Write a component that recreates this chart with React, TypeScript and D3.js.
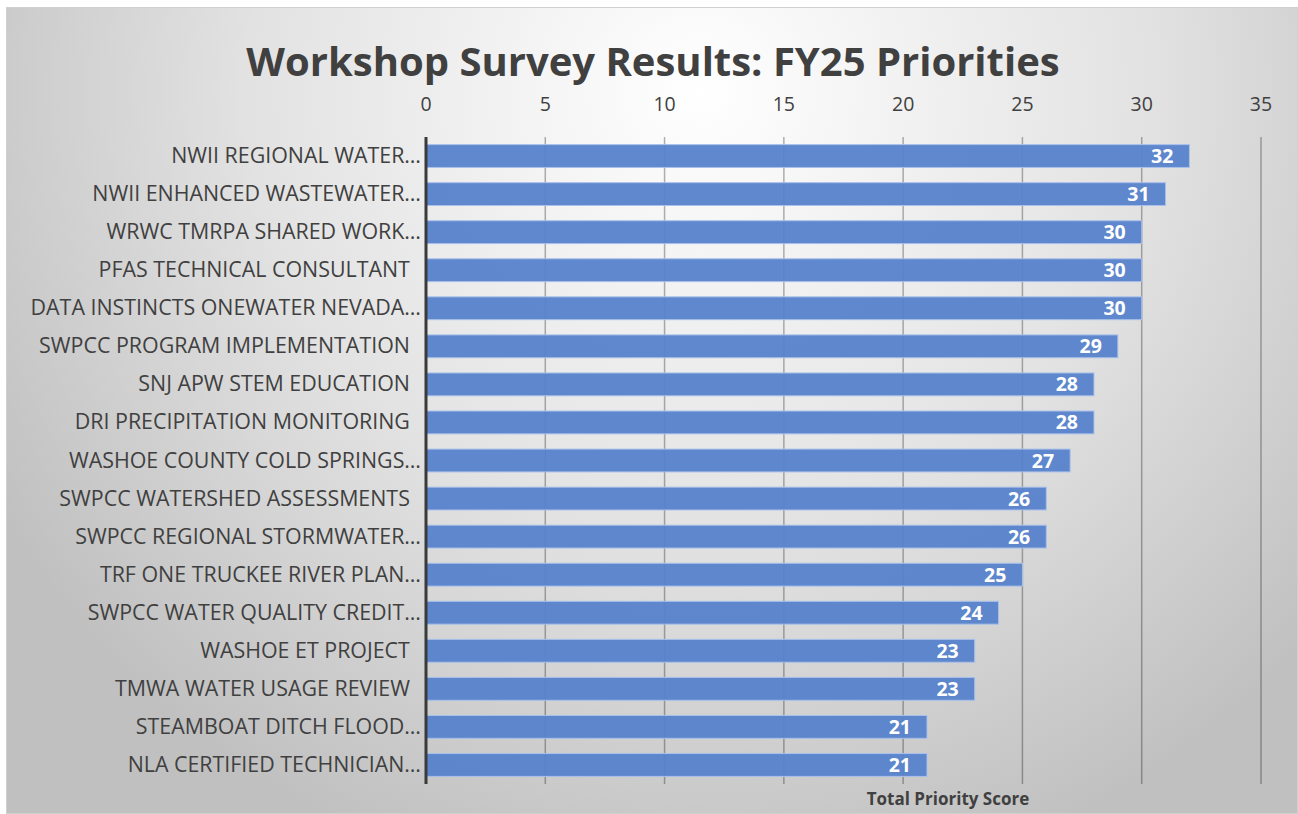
import React from "react";
import * as d3 from "d3";

const categories = [
  "NWII REGIONAL WATER…",
  "NWII ENHANCED WASTEWATER…",
  "WRWC TMRPA SHARED WORK…",
  "PFAS TECHNICAL CONSULTANT  ",
  "DATA INSTINCTS ONEWATER NEVADA…",
  "SWPCC PROGRAM IMPLEMENTATION  ",
  "SNJ APW STEM EDUCATION  ",
  "DRI PRECIPITATION MONITORING  ",
  "WASHOE COUNTY COLD SPRINGS…",
  "SWPCC WATERSHED ASSESSMENTS  ",
  "SWPCC REGIONAL STORMWATER…",
  "TRF ONE TRUCKEE RIVER PLAN…",
  "SWPCC WATER QUALITY CREDIT…",
  "WASHOE ET PROJECT  ",
  "TMWA WATER USAGE REVIEW  ",
  "STEAMBOAT DITCH FLOOD…",
  "NLA CERTIFIED TECHNICIAN…",
];
const scores = [32, 31, 30, 30, 30, 29, 28, 28, 27, 26, 26, 25, 24, 23, 23, 21, 21];
const xTicks = [0, 5, 10, 15, 20, 25, 30, 35];
const title = "Workshop Survey Results: FY25 Priorities";
const axisTitle = "Total Priority Score";

const W = 1298;
const H = 814;
const FONT = "'Open Sans', 'Noto Sans', sans-serif";

export default function App() {
  const left = 426;
  const right = 1261;
  const top = 137;
  const bottom = 784;
  const x = d3.scaleLinear().domain([0, 35]).range([left, right]);
  const y = d3.scaleBand<string>().domain(categories).range([top, bottom]).paddingInner(0.4).paddingOuter(0.2);

  return (
    <svg width={W} height={H} style={{ position: "absolute", left: 0, top: 0, background: "#fff" }}>
      <defs>
        <radialGradient id="bg" gradientUnits="userSpaceOnUse" cx={700} cy={90} r={820}>
          <stop offset="0" stopColor="#ffffff" />
          <stop offset="0.55" stopColor="#e2e2e2" />
          <stop offset="1" stopColor="#c0c0c0" />
        </radialGradient>
      </defs>
      <rect x={6.5} y={7.5} width={W - 7} height={H - 8} fill="url(#bg)" stroke="#d0d0d0" strokeWidth={1} />
      <text x={653} y={76} textAnchor="middle" fontFamily={FONT} fontWeight={700} fontSize={40} fill="#404040">
        {title}
      </text>
      {xTicks.map((t) => (
        <g key={t}>
          <text x={x(t)} y={111} textAnchor="middle" fontFamily={FONT} fontSize={19.5} fill="#404040">
            {t}
          </text>
          {t > 0 && (
            <line x1={x(t)} x2={x(t)} y1={top} y2={bottom} stroke="rgba(0,0,0,0.3)" strokeWidth={1.5} />
          )}
        </g>
      ))}
      {categories.map((c, i) => (
        <g key={c}>
          <rect
            x={x(0)}
            y={y(c)!}
            width={x(scores[i]) - x(0)}
            height={y.bandwidth()}
            fill="#5682cb"
            fillOpacity={0.95}
            stroke="#a9c1ea"
            strokeWidth={1}
          />
          <text
            x={x(scores[i]) - 16}
            y={y(c)! + y.bandwidth() / 2 + 7}
            textAnchor="end"
            fontFamily={FONT}
            fontWeight={700}
            fontSize={19.5}
            fill="#ffffff"
          >
            {scores[i]}
          </text>
          <text
            x={421}
            y={y(c)! + y.bandwidth() / 2 + 7}
            textAnchor="end"
            fontFamily={FONT}
            fontSize={21.4}
            fill="#404040"
            xmlSpace="preserve"
            style={{ whiteSpace: "pre" }}
          >
            {c}
          </text>
        </g>
      ))}
      <line x1={x(0)} x2={x(0)} y1={top} y2={bottom} stroke="#3a3a3a" strokeWidth={3} />
      <text x={948} y={805} textAnchor="middle" fontFamily={FONT} fontWeight={700} fontSize={17} fill="#404040">
        {axisTitle}
      </text>
    </svg>
  );
}
